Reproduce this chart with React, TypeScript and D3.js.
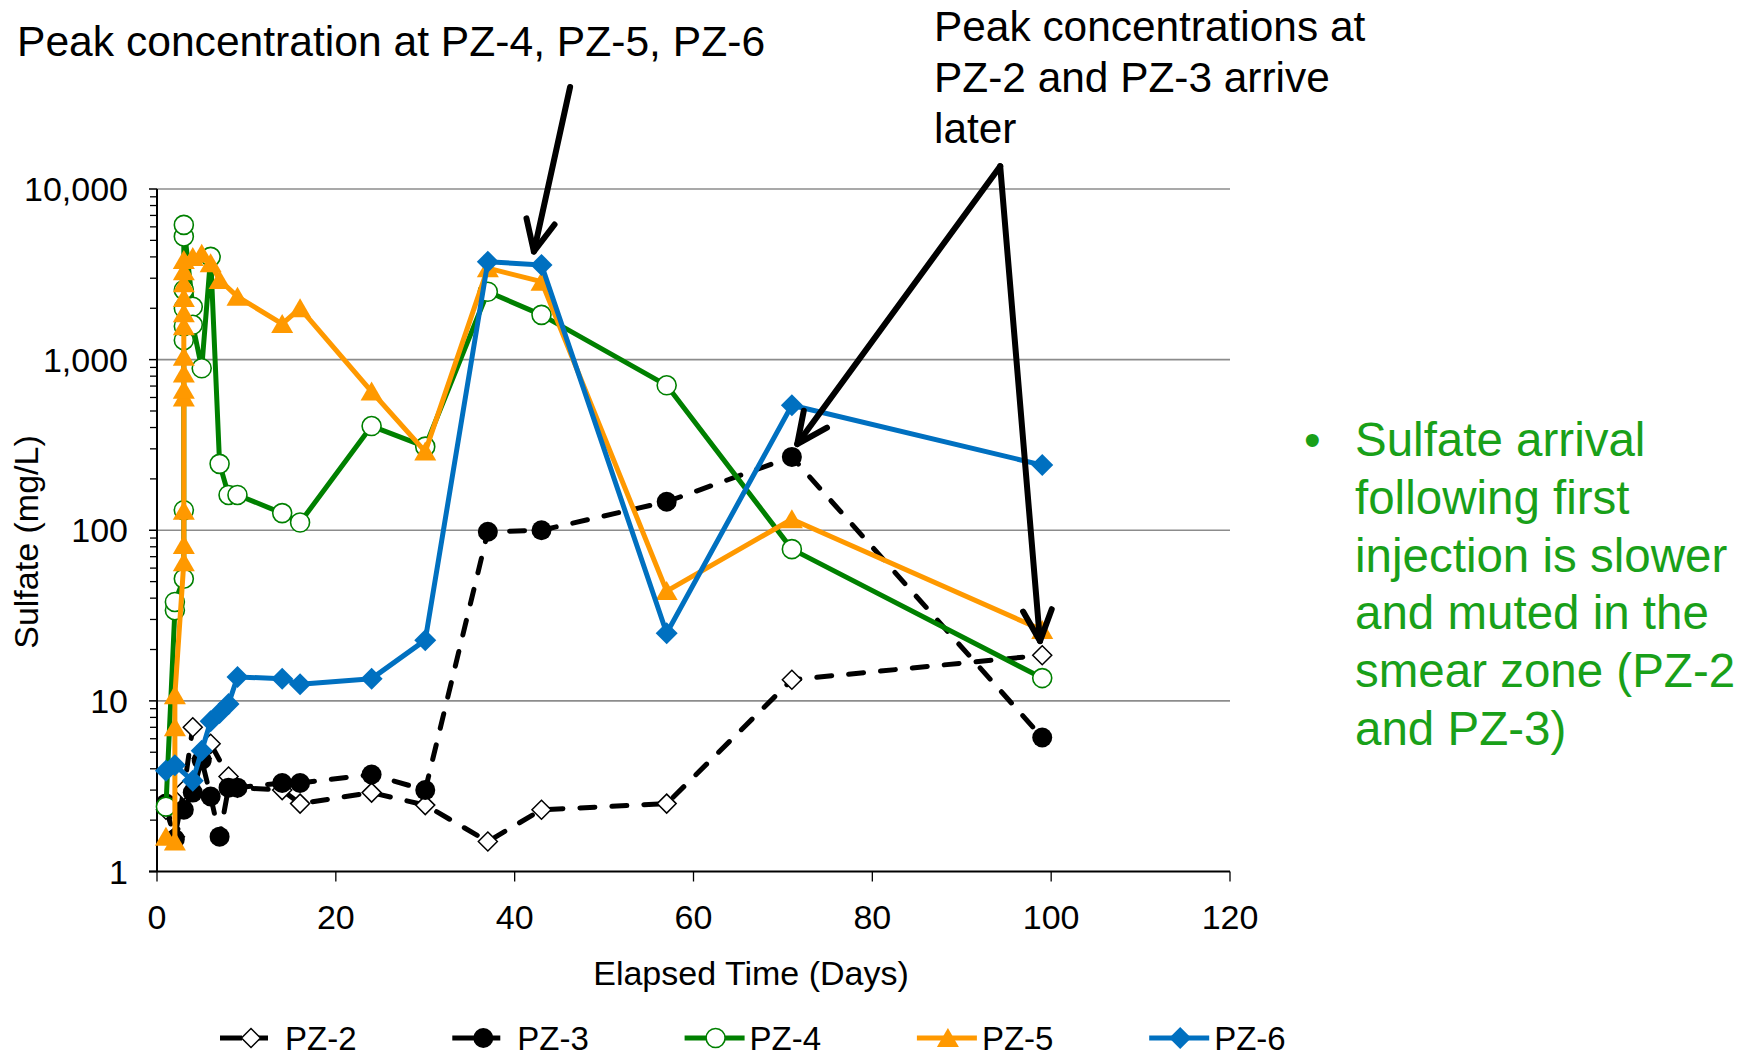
import React from 'react';
import * as d3 from 'd3';

// sampling days and sulfate (mg/L) per piezometer
const pz2Days = [1, 2, 3, 4, 5, 6, 8, 9, 14, 16, 24, 30, 37, 43, 57, 71, 99];
const pz2Vals = [2.3, 1.6, 3.0, 7.0, 4.6, 5.6, 3.6, 3.1, 3.0, 2.5, 2.9, 2.45, 1.5, 2.3, 2.5, 13.3, 18.5];

const pz3Days = [1, 2, 3, 4, 5, 6, 7, 8, 9, 14, 16, 24, 30, 37, 43, 57, 71, 99];
const pz3Vals = [2.5, 1.55, 2.3, 2.9, 4.5, 2.75, 1.6, 3.1, 3.1, 3.3, 3.3, 3.7, 3.0, 98, 100, 147, 269, 6.1];

const pz4Days = [1, 2, 2, 3, 3, 3, 3, 3, 3, 3, 3, 4, 4, 5, 6, 7, 8, 9, 14, 16, 24, 30, 37, 43, 57, 71, 99];
const pz4Vals = [2.4, 34, 38, 52, 131, 1300, 1570, 2000, 2560, 5270, 6160, 2040, 1600, 890, 4000, 245, 161, 161, 126, 111, 408, 309, 2500, 1830, 707, 77.5, 13.6];

const pz5Days = [1, 2, 2, 2, 3, 3, 3, 3, 3, 3, 3, 3, 3, 3, 3, 3, 3, 4, 5, 6, 7, 9, 14, 16, 24, 30, 37, 43, 57, 71, 99];
const pz5Vals = [1.6, 1.5, 7.0, 10.8, 65, 82, 130, 600, 665, 830, 1040, 1570, 1870, 2300, 2800, 3300, 3840, 3990, 4170, 3670, 2930, 2340, 1620, 2000, 650, 289, 3435, 2865, 44, 116, 26];

const pz6Days = [1, 2, 4, 5, 6, 7, 8, 9, 14, 16, 24, 30, 37, 43, 57, 71, 99];
const pz6Vals = [3.9, 4.2, 3.4, 5.1, 7.6, 8.5, 9.6, 13.8, 13.5, 12.5, 13.5, 22.7, 3750, 3590, 24.9, 540, 241];

const xTicks = [0, 20, 40, 60, 80, 100, 120];
const yTicks = [1, 10, 100, 1000, 10000];

const note1 = 'Peak concentration at PZ-4, PZ-5, PZ-6';
const note2 = ['Peak concentrations at', 'PZ-2 and PZ-3 arrive', 'later'];
const sideText = ['Sulfate arrival', 'following first', 'injection is slower', 'and muted in the', 'smear zone (PZ-2', 'and PZ-3)'];

// arrows in data space: [fromDay, fromValue, toDay, toValue]
const arrows = [
  [46.2, 39600, 42.15, 4300],
  [94.3, 13600, 71.6, 320],
  [94.3, 13600, 98.75, 22.4],
];

const FONT = '"Liberation Sans", Arial, sans-serif';

const x = d3.scaleLinear().domain([0, 120]).range([157, 1230]);
const y = d3.scaleLog().domain([1, 10000]).range([871.5, 189]);

const series = [
  { name: 'PZ-2', days: pz2Days, vals: pz2Vals, color: '#000', dash: '15,17', marker: 'openDiamond' },
  { name: 'PZ-3', days: pz3Days, vals: pz3Vals, color: '#000', dash: '15,17', marker: 'dot' },
  { name: 'PZ-4', days: pz4Days, vals: pz4Vals, color: '#008000', dash: null, marker: 'openCircle' },
  { name: 'PZ-5', days: pz5Days, vals: pz5Vals, color: '#FF9900', dash: null, marker: 'triangle' },
  { name: 'PZ-6', days: pz6Days, vals: pz6Vals, color: '#0070C0', dash: null, marker: 'diamond' },
];

function Marker({ kind, cx, cy, color }) {
  if (kind === 'openDiamond') {
    const r = 9.5;
    return <path d={`M${cx},${cy - r}L${cx + r},${cy}L${cx},${cy + r}L${cx - r},${cy}Z`} fill="#fff" stroke="#000" strokeWidth={1.5} />;
  }
  if (kind === 'diamond') {
    const r = 11;
    return <path d={`M${cx},${cy - r}L${cx + r},${cy}L${cx},${cy + r}L${cx - r},${cy}Z`} fill={color} />;
  }
  if (kind === 'dot') return <circle cx={cx} cy={cy} r={10} fill="#000" />;
  if (kind === 'openCircle') return <circle cx={cx} cy={cy} r={9.5} fill="#fff" stroke={color} strokeWidth={1.6} />;
  // triangle
  return <path d={`M${cx},${cy - 10}L${cx + 11},${cy + 9}L${cx - 11},${cy + 9}Z`} fill={color} />;
}

function Arrow({ a }) {
  const [d0, v0, d1, v1] = a;
  const x0 = x(d0), y0 = y(v0), x1 = x(d1), y1 = y(v1);
  const ang = Math.atan2(y0 - y1, x0 - x1);
  const len = 34, spread = (25 * Math.PI) / 180;
  const w1 = [x1 + len * Math.cos(ang + spread), y1 + len * Math.sin(ang + spread)];
  const w2 = [x1 + len * Math.cos(ang - spread), y1 + len * Math.sin(ang - spread)];
  return (
    <g stroke="#000" strokeWidth={6} fill="none" strokeLinecap="round" strokeLinejoin="round">
      <line x1={x0} y1={y0} x2={x1} y2={y1} />
      <path d={`M${w1[0]},${w1[1]}L${x1},${y1}L${w2[0]},${w2[1]}`} />
    </g>
  );
}

export default function App() {
  const line = d3.line();
  const minor = [];
  for (let dec = 1; dec < 10000; dec *= 10) for (let m = 2; m <= 9; m++) minor.push(dec * m);
  const [xl, xr] = x.range();

  return (
    <svg width={1752} height={1058} style={{ position: 'absolute', left: 0, top: 0, background: '#fff' }} fontFamily={FONT}>
      <rect width={1752} height={1058} fill="#fff" />

      {/* gridlines */}
      {yTicks.slice(1).map((t) => (
        <line key={t} x1={xl} x2={xr} y1={y(t)} y2={y(t)} stroke="#8c8c8c" strokeWidth={1.6} />
      ))}

      {/* axes */}
      <line x1={xl} x2={xl} y1={y(10000)} y2={y(1)} stroke="#000" strokeWidth={2} />
      <line x1={xl - 8} x2={xr} y1={y(1)} y2={y(1)} stroke="#000" strokeWidth={2} />
      {minor.map((t) => (
        <line key={t} x1={xl - 7} x2={xl} y1={y(t)} y2={y(t)} stroke="#000" strokeWidth={1.3} />
      ))}
      {yTicks.map((t) => (
        <g key={t}>
          <line x1={xl - 8} x2={xl} y1={y(t)} y2={y(t)} stroke="#000" strokeWidth={1.5} />
          <text x={xl - 29} y={y(t) + 12} textAnchor="end" fontSize={34}>{d3.format(',')(t)}</text>
        </g>
      ))}
      {xTicks.map((t) => (
        <g key={t}>
          <line x1={x(t)} x2={x(t)} y1={y(1)} y2={y(1) + 10} stroke="#000" strokeWidth={1.3} />
          <text x={x(t)} y={929} textAnchor="middle" fontSize={34}>{t}</text>
        </g>
      ))}
      <text x={751} y={985} textAnchor="middle" fontSize={34}>Elapsed Time  (Days)</text>
      <text transform="translate(38,542) rotate(-90)" textAnchor="middle" fontSize={34}>Sulfate (mg/L)</text>

      {/* series */}
      {series.map((s) => {
        const pts = s.days.map((d, i) => [x(d), y(s.vals[i])]);
        return (
          <g key={s.name}>
            <path d={line(pts)} fill="none" stroke={s.color} strokeWidth={5} strokeDasharray={s.dash || undefined}
              strokeLinecap={s.dash ? 'round' : 'butt'} strokeLinejoin="round" />
            {pts.map((p, i) => (
              <Marker key={i} kind={s.marker} cx={p[0]} cy={p[1]} color={s.color} />
            ))}
          </g>
        );
      })}

      {/* legend */}
      {series.map((s, i) => {
        const lx = 220 + i * 232.3, ly = 1038;
        return (
          <g key={s.name}>
            <line x1={lx} x2={lx + 60} y1={ly} y2={ly} stroke={s.color} strokeWidth={5}
              strokeDasharray={s.dash ? '22,16,10' : undefined} />
            <Marker kind={s.marker} cx={lx + 31} cy={ly} color={s.color} />
            <text x={lx + 65} y={ly + 12} fontSize={33}>{s.name}</text>
          </g>
        );
      })}

      {/* annotations */}
      {arrows.map((a, i) => <Arrow key={i} a={a} />)}
      <text x={17} y={56} fontSize={42.6}>{note1}</text>
      {note2.map((t, i) => (
        <text key={i} x={934} y={41 + i * 51} fontSize={42.4}>{t}</text>
      ))}
      <text x={1304} y={456} fontSize={47.5} fill="#19a019">•</text>
      {sideText.map((t, i) => (
        <text key={i} x={1355} y={456 + i * 57.8} fontSize={47.5} fill="#19a019">{t}</text>
      ))}
    </svg>
  );
}
